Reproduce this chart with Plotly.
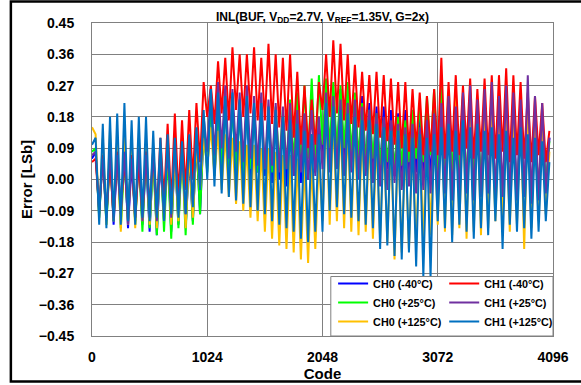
import plotly.graph_objects as go

# INL curves, one point every 32 codes (trough / peak of each 64-code segment)
codes = list(range(0, 4096, 32))

ch0_m40 = [
    0.06, 0.08, -0.10, 0.07, -0.12, 0.09, -0.13, 0.06, -0.11, 0.08, -0.14, 0.05, -0.12, 0.07, -0.13, 0.06,
    -0.15, 0.08, -0.16, 0.06, -0.12, 0.09, -0.15, 0.07, -0.13, 0.10, -0.14, 0.06, -0.12, 0.11, -0.10, 0.14,
    0.04, 0.22, 0.03, 0.24, 0.02, 0.21, 0.04, 0.23, 0.01, 0.22, 0.03, 0.20, 0.00, 0.21, 0.02, 0.19,
    0.01, 0.18, -0.01, 0.16, 0.00, 0.17, -0.02, 0.15, 0.01, 0.14, -0.01, 0.16, 0.00, 0.13, 0.02, 0.15,
    0.07, 0.27, 0.05, 0.25, 0.06, 0.26, 0.04, 0.24, 0.05, 0.23, 0.03, 0.24, 0.04, 0.22, 0.03, 0.21,
    0.02, 0.21, 0.03, 0.20, 0.01, 0.19, 0.02, 0.20, 0.00, 0.18, 0.02, 0.19, 0.01, 0.20, 0.00, 0.21,
    -0.04, 0.20, -0.05, 0.18, -0.03, 0.21, -0.06, 0.19, -0.04, 0.17, -0.05, 0.20, -0.03, 0.18, -0.06, 0.19,
    -0.05, 0.17, -0.04, 0.19, -0.06, 0.16, -0.05, 0.18, -0.04, 0.17, -0.06, 0.15, -0.05, 0.17, -0.03, 0.12,
]
ch0_p25 = [
    0.08, 0.09, -0.11, 0.08, -0.13, 0.07, -0.12, 0.10, -0.14, 0.06, -0.12, 0.09, -0.13, 0.07, -0.15, 0.08,
    -0.14, 0.06, -0.16, 0.09, -0.15, 0.07, -0.17, 0.10, -0.14, 0.08, -0.16, 0.11, -0.13, 0.12, -0.10, 0.15,
    0.02, 0.22, 0.01, 0.20, 0.03, 0.23, 0.00, 0.21, 0.02, 0.19, 0.01, 0.22, 0.03, 0.20, 0.02, 0.21,
    0.03, 0.19, 0.02, 0.21, 0.04, 0.20, 0.03, 0.23, 0.05, 0.25, 0.04, 0.27, 0.06, 0.29, 0.05, 0.30,
    0.10, 0.29, 0.09, 0.28, 0.08, 0.27, 0.09, 0.28, 0.07, 0.25, 0.06, 0.22, 0.05, 0.20, 0.06, 0.19,
    0.04, 0.17, 0.05, 0.16, 0.03, 0.18, 0.04, 0.17, 0.05, 0.20, 0.06, 0.22, 0.05, 0.24, 0.07, 0.26,
    0.02, 0.27, 0.01, 0.25, 0.00, 0.26, 0.02, 0.24, -0.01, 0.22, 0.00, 0.21, -0.02, 0.20, -0.01, 0.19,
    -0.04, 0.18, -0.05, 0.17, -0.03, 0.16, -0.06, 0.18, -0.04, 0.15, -0.05, 0.17, -0.04, 0.16, -0.02, 0.11,
]
ch0_p125 = [
    0.15, 0.13, -0.11, 0.12, -0.13, 0.14, -0.12, 0.11, -0.15, 0.13, -0.13, 0.10, -0.14, 0.12, -0.12, 0.11,
    -0.13, 0.09, -0.14, 0.08, -0.12, 0.10, -0.13, 0.07, -0.12, 0.09, -0.14, 0.08, -0.11, 0.10, -0.03, 0.12,
    0.04, 0.15, 0.01, 0.14, -0.03, 0.13, -0.05, 0.12, -0.07, 0.11, -0.09, 0.10, -0.11, 0.10, -0.12, 0.09,
    -0.15, 0.09, -0.17, 0.08, -0.19, 0.07, -0.20, 0.07, -0.21, 0.06, -0.23, 0.05, -0.24, 0.05, -0.20, 0.06,
    -0.12, 0.20, -0.13, 0.18, -0.12, 0.17, -0.14, 0.16, -0.15, 0.15, -0.16, 0.14, -0.15, 0.13, -0.17, 0.12,
    -0.17, 0.12, -0.18, 0.11, -0.23, 0.12, -0.21, 0.10, -0.20, 0.11, -0.19, 0.13, -0.18, 0.15, -0.16, 0.18,
    -0.13, 0.22, -0.15, 0.24, -0.16, 0.26, -0.14, 0.23, -0.17, 0.25, -0.15, 0.22, -0.16, 0.21, -0.14, 0.20,
    -0.12, 0.20, -0.14, 0.19, -0.15, 0.22, -0.13, 0.20, -0.20, 0.21, -0.14, 0.18, -0.12, 0.17, -0.10, 0.08,
]
ch1_m40 = [
    0.05, 0.06, -0.09, 0.07, -0.10, 0.05, -0.11, 0.08, -0.09, 0.06, -0.10, 0.07, -0.11, 0.05, -0.10, 0.08,
    -0.08, 0.09, -0.09, 0.12, -0.06, 0.16, -0.07, 0.19, -0.05, 0.17, -0.03, 0.20, 0.00, 0.22, 0.05, 0.28,
    0.18, 0.27, 0.16, 0.34, 0.19, 0.35, 0.17, 0.38, 0.20, 0.36, 0.18, 0.36, 0.19, 0.38, 0.17, 0.35,
    0.17, 0.39, 0.16, 0.36, 0.15, 0.35, 0.14, 0.36, 0.12, 0.31, 0.10, 0.27, 0.09, 0.23, 0.10, 0.28,
    0.20, 0.36, 0.18, 0.40, 0.19, 0.39, 0.17, 0.36, 0.16, 0.33, 0.15, 0.31, 0.14, 0.30, 0.13, 0.31,
    0.12, 0.30, 0.11, 0.29, 0.10, 0.28, 0.09, 0.28, 0.08, 0.26, 0.09, 0.25, 0.07, 0.24, 0.08, 0.26,
    0.07, 0.35, 0.06, 0.28, 0.08, 0.30, 0.07, 0.27, 0.09, 0.29, 0.06, 0.26, 0.08, 0.29, 0.07, 0.30,
    0.06, 0.30, 0.08, 0.32, 0.05, 0.30, 0.07, 0.28, 0.06, 0.25, 0.05, 0.24, 0.07, 0.22, 0.05, 0.14,
]
ch1_p25 = [
    0.07, 0.08, -0.09, 0.06, -0.11, 0.09, -0.12, 0.07, -0.10, 0.08, -0.13, 0.06, -0.11, 0.09, -0.12, 0.07,
    -0.11, 0.08, -0.12, 0.06, -0.10, 0.09, -0.11, 0.10, -0.09, 0.08, -0.10, 0.12, -0.07, 0.13, -0.02, 0.18,
    0.08, 0.26, 0.07, 0.28, 0.09, 0.27, 0.06, 0.26, 0.08, 0.25, 0.05, 0.27, 0.06, 0.24, 0.04, 0.25,
    0.03, 0.23, 0.04, 0.22, 0.02, 0.21, 0.03, 0.22, 0.01, 0.20, 0.02, 0.19, 0.00, 0.20, 0.01, 0.18,
    0.03, 0.25, 0.02, 0.24, 0.03, 0.23, 0.01, 0.22, 0.02, 0.23, 0.00, 0.21, 0.01, 0.20, -0.01, 0.19,
    -0.02, 0.18, -0.03, 0.17, -0.01, 0.16, -0.03, 0.15, -0.02, 0.16, -0.04, 0.15, -0.03, 0.17, -0.04, 0.19,
    -0.05, 0.22, -0.04, 0.24, -0.06, 0.21, -0.05, 0.25, -0.04, 0.27, -0.06, 0.23, -0.05, 0.26, -0.04, 0.28,
    -0.06, 0.24, -0.05, 0.27, -0.07, 0.25, -0.06, 0.23, -0.05, 0.30, -0.07, 0.24, -0.06, 0.22, -0.04, 0.12,
]
ch1_p125 = [
    0.10, 0.12, -0.13, 0.16, -0.14, 0.18, -0.12, 0.19, -0.13, 0.22, -0.12, 0.17, -0.13, 0.18, -0.11, 0.18,
    -0.12, 0.14, -0.11, 0.12, -0.12, 0.13, -0.10, 0.12, -0.11, 0.11, -0.10, 0.13, -0.08, 0.15, -0.03, 0.20,
    0.00, 0.26, -0.02, 0.25, -0.04, 0.24, -0.05, 0.25, -0.06, 0.23, -0.07, 0.24, -0.08, 0.22, -0.09, 0.22,
    -0.10, 0.21, -0.12, 0.20, -0.13, 0.18, -0.14, 0.17, -0.15, 0.16, -0.17, 0.14, -0.18, 0.13, -0.15, 0.13,
    -0.15, 0.22, -0.09, 0.21, -0.08, 0.20, -0.10, 0.19, -0.11, 0.18, -0.12, 0.17, -0.13, 0.17, -0.14, 0.16,
    -0.20, 0.15, -0.19, 0.14, -0.22, 0.14, -0.23, 0.13, -0.21, 0.12, -0.25, 0.13, -0.28, 0.12, -0.28, 0.13,
    -0.12, 0.15, -0.14, 0.16, -0.18, 0.14, -0.13, 0.17, -0.15, 0.15, -0.17, 0.16, -0.14, 0.14, -0.16, 0.15,
    -0.12, 0.13, -0.20, 0.14, -0.13, 0.12, -0.15, 0.15, -0.14, 0.13, -0.17, 0.12, -0.15, 0.11, -0.12, 0.05,
]

series = [
    ("CH0 (-40°C)", ch0_m40, "#0000FF", "legend"),
    ("CH0 (+25°C)", ch0_p25, "#00FF00", "legend"),
    ("CH0 (+125°C)", ch0_p125, "#FFC000", "legend"),
    ("CH1 (-40°C)", ch1_m40, "#FF0000", "legend2"),
    ("CH1 (+25°C)", ch1_p25, "#7030A0", "legend2"),
    ("CH1 (+125°C)", ch1_p125, "#0070C0", "legend2"),
]

font = "Liberation Sans, Arial, sans-serif"
fig = go.Figure()
for name, vals, col, leg in series:
    fig.add_trace(go.Scatter(x=codes, y=vals, mode="lines", name=name,
                             line=dict(color=col, width=2), legend=leg))

legfont = dict(family=font, size=10.8, color="black", weight="bold")
fig.update_layout(
    width=581, height=385,
    margin=dict(l=92, r=28, t=23, b=49, autoexpand=False),
    paper_bgcolor="white", plot_bgcolor="white",
    font=dict(family=font, color="black"),
    title=dict(text="INL(BUF, V<sub>DD</sub>=2.7V, V<sub>REF</sub>=1.35V, G=2x)",
               xref="paper", x=0.5, xanchor="center", y=0.957, yanchor="middle",
               font=dict(size=12, weight="bold")),
    xaxis=dict(range=[0, 4096], tickvals=[0, 1024, 2048, 3072, 4096], automargin=False,
               showgrid=True, gridcolor="#808080", gridwidth=1,
               showline=True, linecolor="#808080", mirror=True, zeroline=False,
               ticks="", ticklabelstandoff=8,
               tickfont=dict(size=14, weight="bold"),
               title=dict(text="Code", standoff=2, font=dict(size=15, weight="bold"))),
    yaxis=dict(range=[-0.45, 0.45], dtick=0.09, tick0=0, tickformat=".2f", automargin=False,
               showgrid=True, gridcolor="#808080", gridwidth=1,
               showline=True, linecolor="#808080", mirror=True, zeroline=False,
               ticks="", ticklabelstandoff=14,
               tickfont=dict(size=14, weight="bold"),
               title=dict(text="Error [LSb]", standoff=2, font=dict(size=15, weight="bold"))),
    legend=dict(x=0.523, xanchor="left", y=0.0, yanchor="bottom",
                bgcolor="rgba(0,0,0,0)", borderwidth=0, itemwidth=30,
                font=legfont, tracegroupgap=0),
    legend2=dict(x=0.764, xanchor="left", y=0.0, yanchor="bottom",
                 bgcolor="rgba(0,0,0,0)", borderwidth=0, itemwidth=30,
                 font=legfont, tracegroupgap=0),
    showlegend=True,
    shapes=[
        # legend box
        dict(type="rect", xref="paper", yref="paper", x0=0.518, x1=1.0, y0=0.0, y1=0.19,
             line=dict(color="#808080", width=1), fillcolor="white", layer="above"),
        # outer chart frame
        dict(type="rect", xref="paper", yref="paper", x0=-0.176, x1=1.12, y0=-0.145, y1=1.069,
             line=dict(color="black", width=2.5), fillcolor="rgba(0,0,0,0)", layer="above"),
    ],
)

# drop the page's default body margin so the figure sits at the window's corner
fig.write_html("out.html", config={"displayModeBar": False},
               post_script="document.body.style.margin='0px';")
